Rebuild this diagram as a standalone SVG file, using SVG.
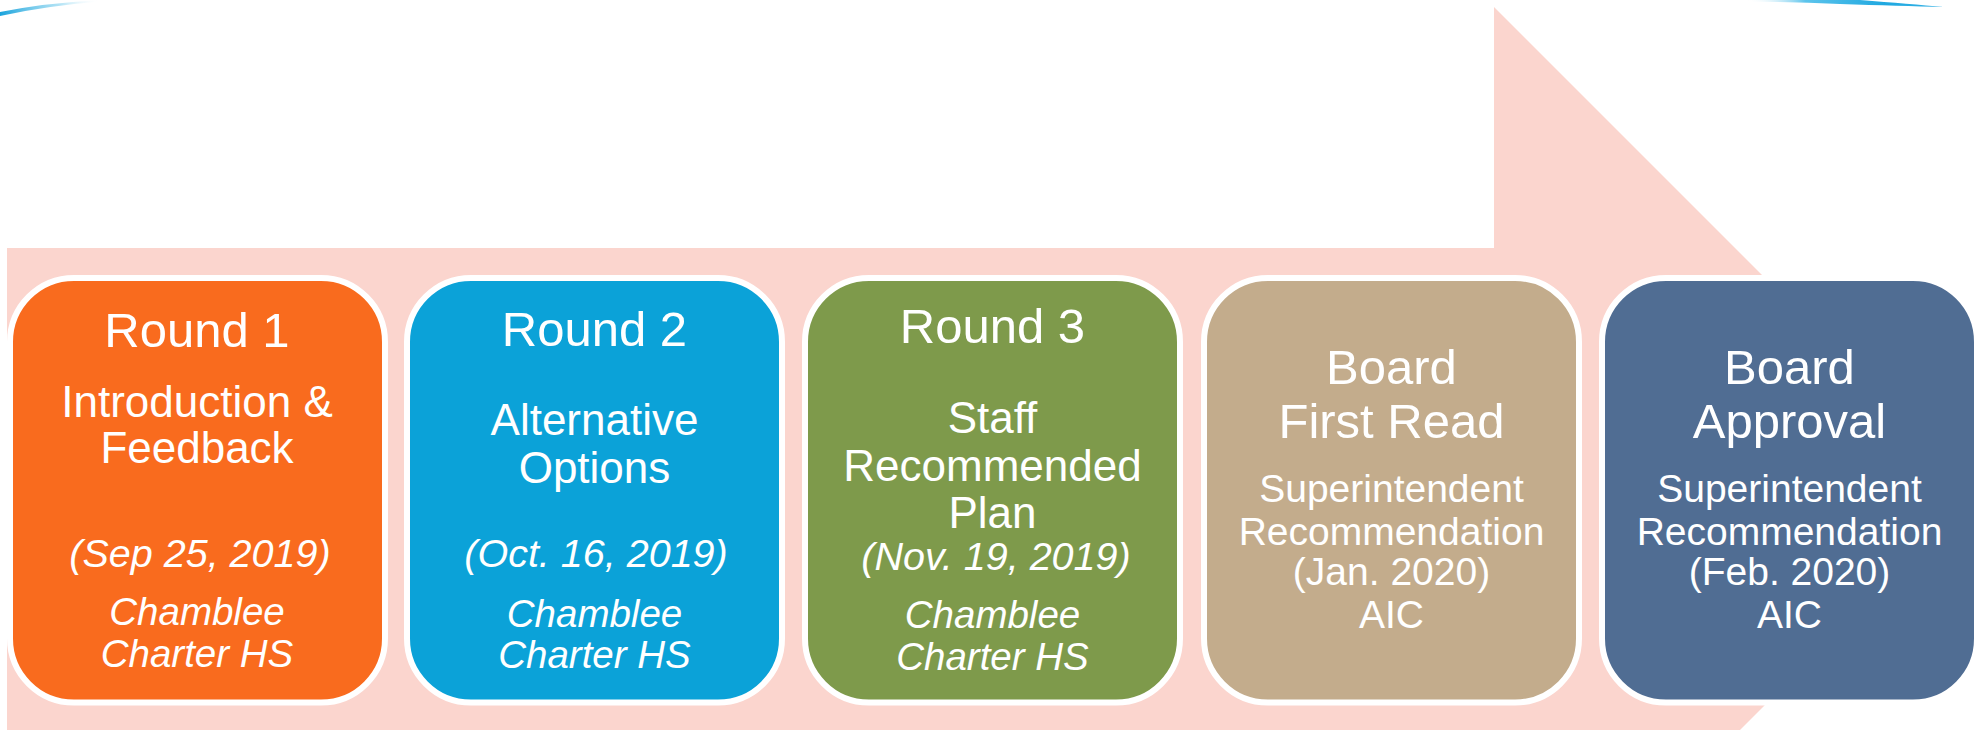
<svg xmlns="http://www.w3.org/2000/svg" width="1986" height="730" viewBox="0 0 1986 730">
  <style>
    .box { stroke: #FFFFFF; stroke-width: 6; }
    .t { font-family: "Liberation Sans", Arial, sans-serif; fill: #FFFFFF; text-anchor: middle; }
    .title { font-size: 49px; }
    .body { font-size: 44px; }
    .body2 { font-size: 39px; }
    .it { font-style: italic; font-size: 39.5px; }
    .it2 { font-style: italic; font-size: 38.5px; }
  </style>
  <defs>
    <linearGradient id="swL" x1="0" y1="0" x2="1" y2="0">
      <stop offset="0" stop-color="#1AA3DC"/>
      <stop offset="0.6" stop-color="#7FD0EE" stop-opacity="0.6"/>
      <stop offset="1" stop-color="#FFFFFF" stop-opacity="0"/>
    </linearGradient>
    <linearGradient id="swR" x1="0" y1="0" x2="1" y2="0">
      <stop offset="0" stop-color="#FFFFFF" stop-opacity="0"/>
      <stop offset="0.3" stop-color="#5CC4EC"/>
      <stop offset="0.7" stop-color="#1FA8E0"/>
      <stop offset="1" stop-color="#3AB3E6"/>
    </linearGradient>
  </defs>
  <rect x="0" y="0" width="1986" height="730" fill="#FFFFFF"/>

  <g id="decor">
    <path d="M0,12 Q45,3 100,0 L100,1.5 Q45,6 0,16 Z" fill="url(#swL)"/>
    <path d="M1746,0 L1860,0 Q1910,4 1944,7 Q1900,6 1840,4 Q1790,2 1746,1.5 Z" fill="url(#swR)"/>
  </g>

  <g id="arrow">
    <polygon points="7,248 1494,248 1494,7 1978.5,491.5 1494,976 1494,735 7,735" fill="#FBD5CE"/>
  </g>

  <g id="connectors"></g>

  <g id="round1">
    <rect class="box" x="10" y="278" width="375" height="424.5" rx="64" ry="64" fill="#F96B1E"/>
    <text class="t title" x="197" y="346.7">Round 1</text>
    <text class="t body" x="197" y="416.7">Introduction &amp;</text>
    <text class="t body" x="197" y="463.3">Feedback</text>
    <text class="t it" x="200" y="566.7">(Sep 25, 2019)</text>
    <text class="t it2" x="197" y="625">Chamblee</text>
    <text class="t it2" x="197" y="666.7">Charter HS</text>
  </g>

  <g id="round2">
    <rect class="box" x="407" y="278" width="375" height="424.5" rx="64" ry="64" fill="#0BA2D8"/>
    <text class="t title" x="594.5" y="346">Round 2</text>
    <text class="t body" x="594.5" y="435">Alternative</text>
    <text class="t body" x="594.5" y="482.7">Options</text>
    <text class="t it" x="596" y="566.7">(Oct. 16, 2019)</text>
    <text class="t it2" x="594.5" y="626.7">Chamblee</text>
    <text class="t it2" x="594.5" y="667.7">Charter HS</text>
  </g>

  <g id="round3">
    <rect class="box" x="805" y="278" width="375" height="424.5" rx="64" ry="64" fill="#7E9A4B"/>
    <text class="t title" x="992.5" y="342.7">Round 3</text>
    <text class="t body" x="992.5" y="432.7">Staff</text>
    <text class="t body" x="992.5" y="481">Recommended</text>
    <text class="t body" x="992.5" y="528.3">Plan</text>
    <text class="t it" x="996" y="570">(Nov. 19, 2019)</text>
    <text class="t it2" x="992.5" y="628.3">Chamblee</text>
    <text class="t it2" x="992.5" y="670">Charter HS</text>
  </g>

  <g id="board-first-read">
    <rect class="box" x="1204" y="278" width="375" height="424.5" rx="64" ry="64" fill="#C3AC8C"/>
    <text class="t title" x="1391.5" y="384.3">Board</text>
    <text class="t title" x="1391.5" y="438.3">First Read</text>
    <text class="t body2" x="1391.5" y="502.3">Superintendent</text>
    <text class="t body2" x="1391.5" y="545">Recommendation</text>
    <text class="t body2" x="1391.5" y="585">(Jan. 2020)</text>
    <text class="t body2" x="1391.5" y="628.3">AIC</text>
  </g>

  <g id="board-approval">
    <rect class="box" x="1602" y="278" width="375" height="424.5" rx="64" ry="64" fill="#506D93"/>
    <text class="t title" x="1789.5" y="384.3">Board</text>
    <text class="t title" x="1789.5" y="438.3">Approval</text>
    <text class="t body2" x="1789.5" y="502.3">Superintendent</text>
    <text class="t body2" x="1789.5" y="545">Recommendation</text>
    <text class="t body2" x="1789.5" y="585">(Feb. 2020)</text>
    <text class="t body2" x="1789.5" y="628.3">AIC</text>
  </g>
</svg>
